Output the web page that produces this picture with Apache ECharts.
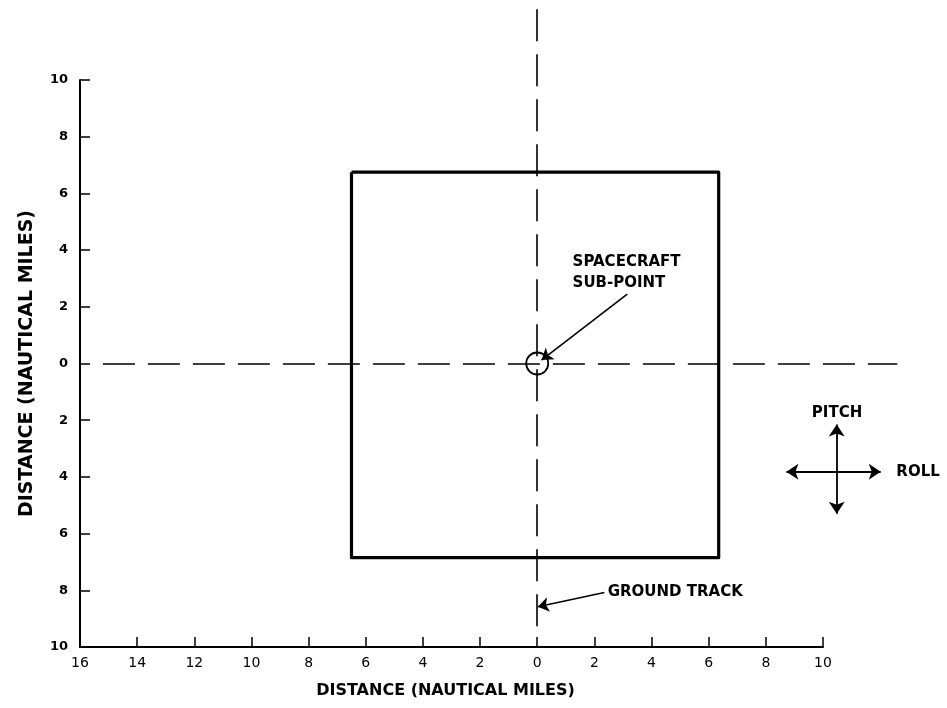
<!DOCTYPE html>
<html>
<head>
<meta charset="utf-8">
<script src="https://cdn.jsdelivr.net/npm/echarts@6/dist/echarts.min.js"></script>
<style>
  html, body { margin: 0; padding: 0; background: #ffffff; }
  #chart { width: 947px; height: 708px; }
</style>
</head>
<body>
<div id="chart"></div>
<script>
// Axis extents (nautical miles) and tick spacing
const xRange = [-16, 10];
const yRange = [-10, 10];
const tickStep = 2;

// Sensor footprint square, corner by corner (closed)
const footprintX = [-6.5, 6.35, 6.35, -6.5, -6.5];
const footprintY = [6.75, 6.75, -6.85, -6.85, 6.75];

// Ground track (vertical) and cross-track (horizontal) reference lines: [x1, y1, x2, y2]
const groundTrack = [0, 12.5, 0, -9.6];
const crossTrack = [-15.2, 0, 12.6, 0];

// Spacecraft sub-point
const subPoint = [0, 0];

// Callout arrows: [fromX, fromY, toX, toY]
const subPointArrow = [3.15, 2.45, 0.15, 0.12];
const groundTrackArrow = [2.35, -8.08, 0.02, -8.58];

// Pitch / roll direction key: centre and arm ends
const keyCentre = [10.48, -3.82];
const pitchEnds = [-2.15, -5.3];
const rollEnds = [8.72, 12.02];

// Annotation text anchors
const calloutTexts = [
  { text: 'SPACECRAFT', x: 1.22, y: 3.58, pos: 'right' },
  { text: 'SUB-POINT', x: 1.22, y: 2.84, pos: 'right' },
  { text: 'GROUND TRACK', x: 2.45, y: -8.06, pos: 'right' },
  { text: 'ROLL', x: 12.55, y: -3.83, pos: 'right' },
  { text: 'PITCH', x: 10.49, y: -1.75, pos: 'inside' }
];

const ink = '#000000';
const fontFamily = '"DejaVu Sans", sans-serif';

const zip = (xs, ys) => xs.map((x, i) => [x, ys[i]]);
const seg = (a) => ({ coords: [[a[0], a[1]], [a[2], a[3]]] });

const chart = echarts.init(document.getElementById('chart'), null, { renderer: 'canvas' });

chart.setOption({
  backgroundColor: '#ffffff',
  animation: false,
  grid: { left: 80, right: 124, top: 80, bottom: 61, containLabel: false },
  xAxis: {
    type: 'value',
    min: xRange[0], max: xRange[1], interval: tickStep,
    name: 'DISTANCE (NAUTICAL MILES)',
    nameLocation: 'middle',
    nameGap: 36,
    nameTextStyle: { color: ink, fontFamily, fontSize: 16, fontWeight: 'bold', padding: [0, 12, 0, 0] },
    axisLine: { show: true, onZero: false, lineStyle: { color: ink, width: 2 } },
    axisTick: { show: true, inside: true, length: 10, lineStyle: { color: ink, width: 1.5 } },
    axisLabel: {
      color: ink, fontFamily, fontSize: 14, margin: 9,
      showMinLabel: true, showMaxLabel: true,
      formatter: (v) => String(Math.abs(v))
    },
    splitLine: { show: false }
  },
  yAxis: {
    type: 'value',
    min: yRange[0], max: yRange[1], interval: tickStep,
    name: 'DISTANCE (NAUTICAL MILES)',
    nameLocation: 'middle',
    nameGap: 43,
    nameTextStyle: { color: ink, fontFamily, fontSize: 19, fontWeight: 'bold' },
    axisLine: { show: true, onZero: false, lineStyle: { color: ink, width: 2 } },
    axisTick: { show: true, inside: true, length: 10, lineStyle: { color: ink, width: 1.5 } },
    axisLabel: {
      color: ink, fontFamily, fontSize: 13, fontWeight: 'bold', margin: 12,
      showMinLabel: true, showMaxLabel: true,
      formatter: (v) => String(Math.abs(v))
    },
    splitLine: { show: false }
  },
  series: [
    {
      name: 'reference lines',
      type: 'lines',
      coordinateSystem: 'cartesian2d',
      clip: false,
      symbol: 'none',
      lineStyle: { color: ink, width: 1.6, opacity: 1, curveness: 0, type: [32, 13] },
      data: [seg(crossTrack), seg(groundTrack)]
    },
    {
      name: 'footprint',
      type: 'line',
      clip: false,
      symbol: 'none',
      data: zip(footprintX, footprintY),
      lineStyle: { color: ink, width: 3.2, join: 'round' }
    },
    {
      name: 'sub-point',
      type: 'scatter',
      clip: false,
      symbol: 'circle',
      symbolSize: 22,
      data: [subPoint],
      itemStyle: { color: 'rgba(0,0,0,0)', borderColor: ink, borderWidth: 1.8, opacity: 1 }
    },
    {
      name: 'callouts',
      type: 'lines',
      coordinateSystem: 'cartesian2d',
      clip: false,
      symbol: ['none', 'arrow'],
      symbolSize: 11,
      lineStyle: { color: ink, width: 1.6, opacity: 1, curveness: 0 },
      data: [seg(subPointArrow), seg(groundTrackArrow)]
    },
    {
      name: 'attitude key',
      type: 'lines',
      coordinateSystem: 'cartesian2d',
      clip: false,
      symbol: ['none', 'arrow'],
      symbolSize: 12,
      lineStyle: { color: ink, width: 1.8, opacity: 1, curveness: 0 },
      data: [
        seg([keyCentre[0], keyCentre[1], keyCentre[0], pitchEnds[0]]),
        seg([keyCentre[0], keyCentre[1], keyCentre[0], pitchEnds[1]]),
        seg([keyCentre[0], keyCentre[1], rollEnds[0], keyCentre[1]]),
        seg([keyCentre[0], keyCentre[1], rollEnds[1], keyCentre[1]])
      ]
    },
    {
      name: 'labels',
      type: 'scatter',
      clip: false,
      symbolSize: 1,
      itemStyle: { color: 'rgba(255,255,255,0)' },
      silent: true,
      label: {
        show: true,
        distance: 0,
        color: ink,
        opacity: 1,
        fontFamily,
        fontSize: 15,
        fontWeight: 'bold',
        textBorderWidth: 0
      },
      data: calloutTexts.map((t) => ({
        value: [t.x, t.y],
        label: { position: t.pos, formatter: t.text }
      }))
    }
  ]
});
</script>
</body>
</html>
